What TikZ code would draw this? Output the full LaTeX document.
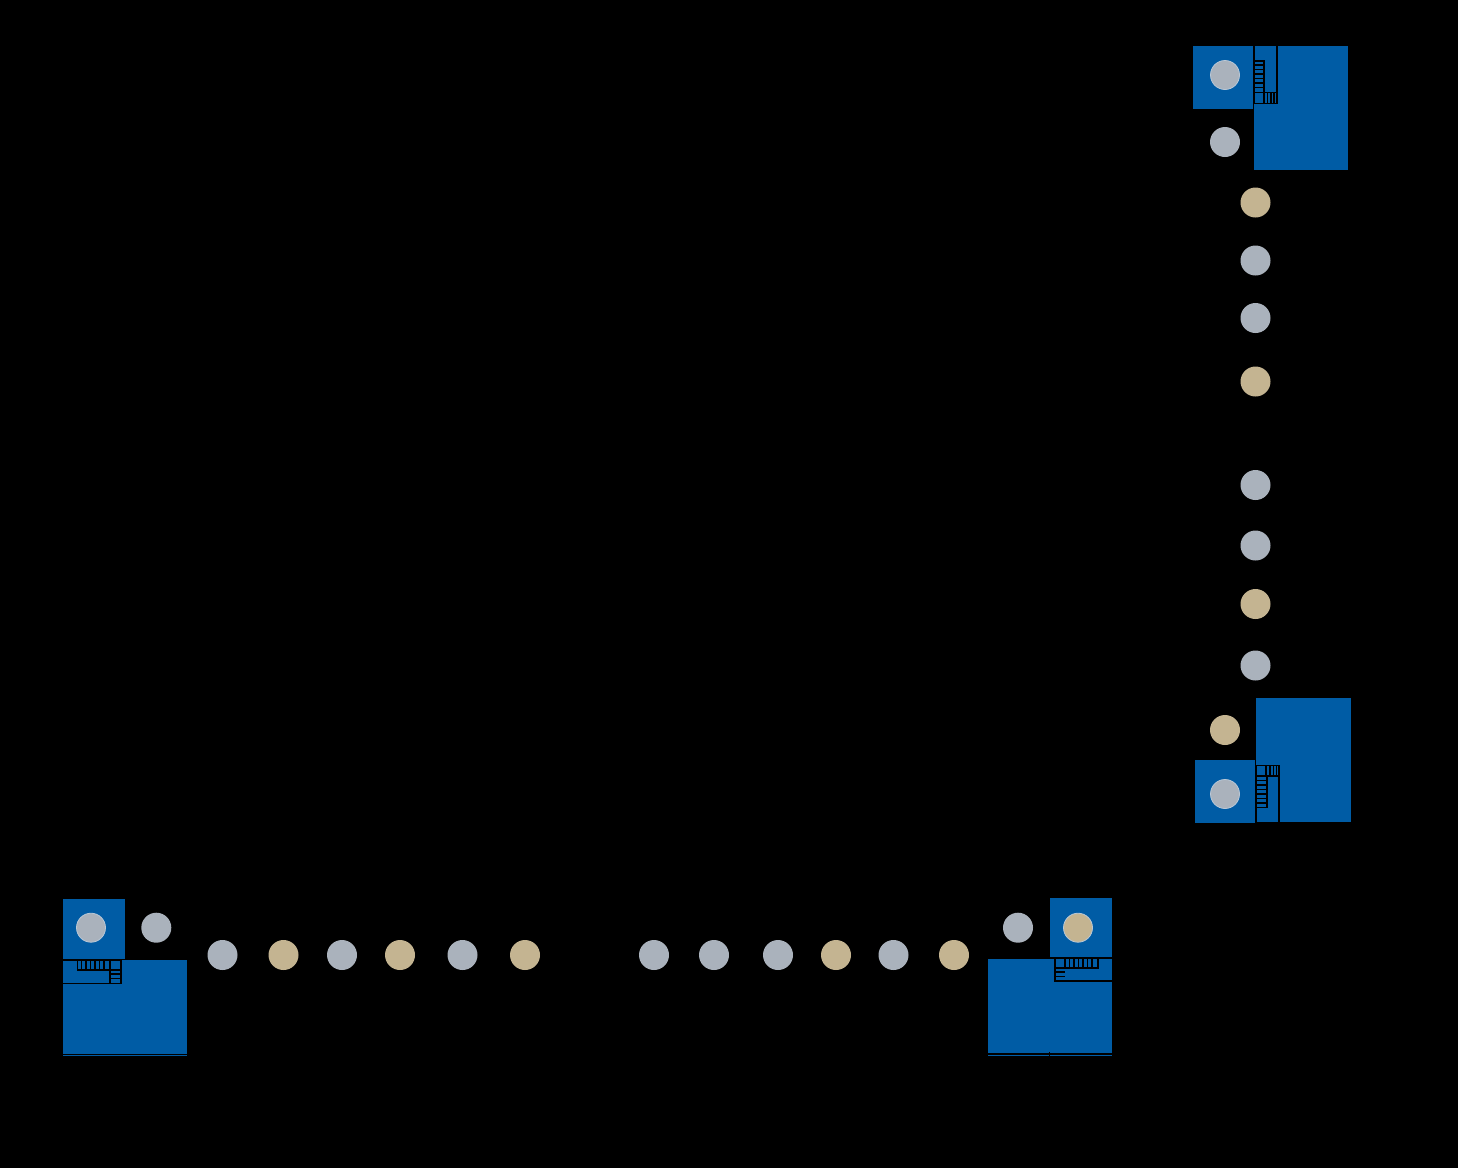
\documentclass[tikz,border=0pt]{standalone}
\usepackage{xcolor}
\definecolor{roomblue}{RGB}{0, 92, 165}
\definecolor{dotgray}{RGB}{170, 178, 188}
\definecolor{dottan}{RGB}{196, 180, 145}
\definecolor{ringblue}{RGB}{185, 200, 215}
\tikzset{
  room/.style={fill=roomblue,draw=none},
  core/.style={draw=black,line width=1.6pt},
  rung/.style={draw=black,line width=1.2pt},
  graydot/.style={circle,fill=dotgray,minimum size=30pt,inner sep=0pt},
  tandot/.style={circle,fill=dottan,minimum size=30pt,inner sep=0pt},
  ringdot/.style={graydot,draw=ringblue,line width=0.8pt,minimum size=29pt}
}
\begin{document}
\begin{tikzpicture}[x=1pt,y=-1pt]
  \useasboundingbox (0,0) rectangle (1458,1168);
  \fill[black] (0,0) rectangle (1458,1168);

  % top right
  \fill[room] (1193.3,46) rectangle (1252.7,108.7);
  \fill[room] (1254,46) rectangle (1348.3,170);
  \draw[core] (1254,46) -- (1254,103.3) -- (1276.7,103.3) -- (1276.7,46);
  \draw[core] (1254,60.7) -- (1264,60.7) -- (1264,92.3) -- (1254,92.3);
  \draw[core] (1264,92.3) -- (1276.7,92.3);
  \foreach \y in {65,69.5,74,78.5,83,87.5} {
    \draw[rung] (1254,\y) -- (1264,\y);
  }
  \foreach \x in {1267.5,1271,1274} {
    \draw[rung] (\x,92.3) -- (\x,103.3);
  }
  \draw[core] (1264,92.3) -- (1264,103.3);

  % bottom right
  \fill[room] (1195.3,760) rectangle (1254.7,822.7);
  \fill[room] (1256,696.7) rectangle (1350.7,822.7);
  \draw[core] (1256,822.7) -- (1256,765.3) -- (1279,765.3) -- (1279,822.7);
  \draw[core] (1256,822.7) -- (1350.7,822.7);
  \draw[core] (1256,697.2) -- (1350.7,697.2);
  \draw[core] (1256,776) -- (1267,776) -- (1267,807.3) -- (1256,807.3);
  \draw[core] (1267,776) -- (1279,776);
  \foreach \y in {780.5,785,789.5,794,798.5,803} {
    \draw[rung] (1256,\y) -- (1267,\y);
  }
  \foreach \x in {1270,1273.5,1276.5} {
    \draw[rung] (\x,765.3) -- (\x,776);
  }
  \draw[core] (1266,765.3) -- (1266,776);

  % bottom left
  \fill[room] (62.7,899) rectangle (125,959);
  \fill[room] (62.7,960.3) rectangle (186.7,1055.5);
  \draw[core] (62.7,960) -- (120.7,960) -- (120.7,983.3) -- (62.7,983.3);
  \draw[core] (77.3,960) -- (77.3,970) -- (110,970) -- (110,960);
  \draw[core] (110,970) -- (110,983.3);
  \draw[core] (110,970) -- (120.7,970);
  \foreach \x in {81.5,86,90.5,95,99.5,104} {
    \draw[rung] (\x,960) -- (\x,970);
  }
  \foreach \y in {974,978.5} {
    \draw[rung] (110,\y) -- (120.7,\y);
  }
  \draw[core] (62.7,1054.3) -- (186.7,1054.3);

  % bottom middle
  \fill[room] (1050,898.3) rectangle (1112,956.7);
  \fill[room] (987.7,959) rectangle (1112,1055.5);
  \draw[core] (987.7,958) -- (1112,958);
  \draw[core] (1055,958) -- (1055,981) -- (1112,981);
  \draw[core] (1065,958) -- (1065,968) -- (1097.7,968) -- (1097.7,958);
  \draw[core] (1055,968) -- (1065,968);
  \foreach \x in {1069.5,1074,1078.5,1083,1087.5,1092} {
    \draw[rung] (\x,958) -- (\x,968);
  }
  \foreach \y in {972,976.5} {
    \draw[rung] (1055,\y) -- (1065,\y);
  }
  \draw[core] (987.7,1053.7) -- (1112,1053.7);
  \draw[core] (1049.5,1052) -- (1049.5,1055.5);

  % dots in the rooms
  \node[ringdot] (sqa) at (1225,75) {};
  \node[ringdot] (sqb) at (1225,794) {};
  \node[ringdot] (sqc) at (91,927.7) {};
  \node[tandot,draw=ringblue,line width=0.8pt,minimum size=29pt] (sqd) at (1078,927.7) {};

  % dots outside
  \node[graydot] (outa) at (1225,142) {};
  \node[tandot] (outb) at (1225,730) {};
  \node[graydot] (outc) at (156.3,927.7) {};
  \node[graydot] (outd) at (1018,927.7) {};

  % row
  \foreach \x/\i in {222.5/1,342/3,462.5/5,654/7,714/8,778/9,893.5/11} {
    \node[graydot] (row\i) at (\x,955) {};
  }
  \foreach \x/\i in {283.5/2,400/4,525/6,836/10,954/12} {
    \node[tandot] (row\i) at (\x,955) {};
  }

  % column
  \foreach \y/\i in {260.5/2,318/3,485/5,545.5/6,665.5/8} {
    \node[graydot] (col\i) at (1255.5,\y) {};
  }
  \foreach \y/\i in {202.5/1,381.5/4,604/7} {
    \node[tandot] (col\i) at (1255.5,\y) {};
  }
\end{tikzpicture}
\end{document}
